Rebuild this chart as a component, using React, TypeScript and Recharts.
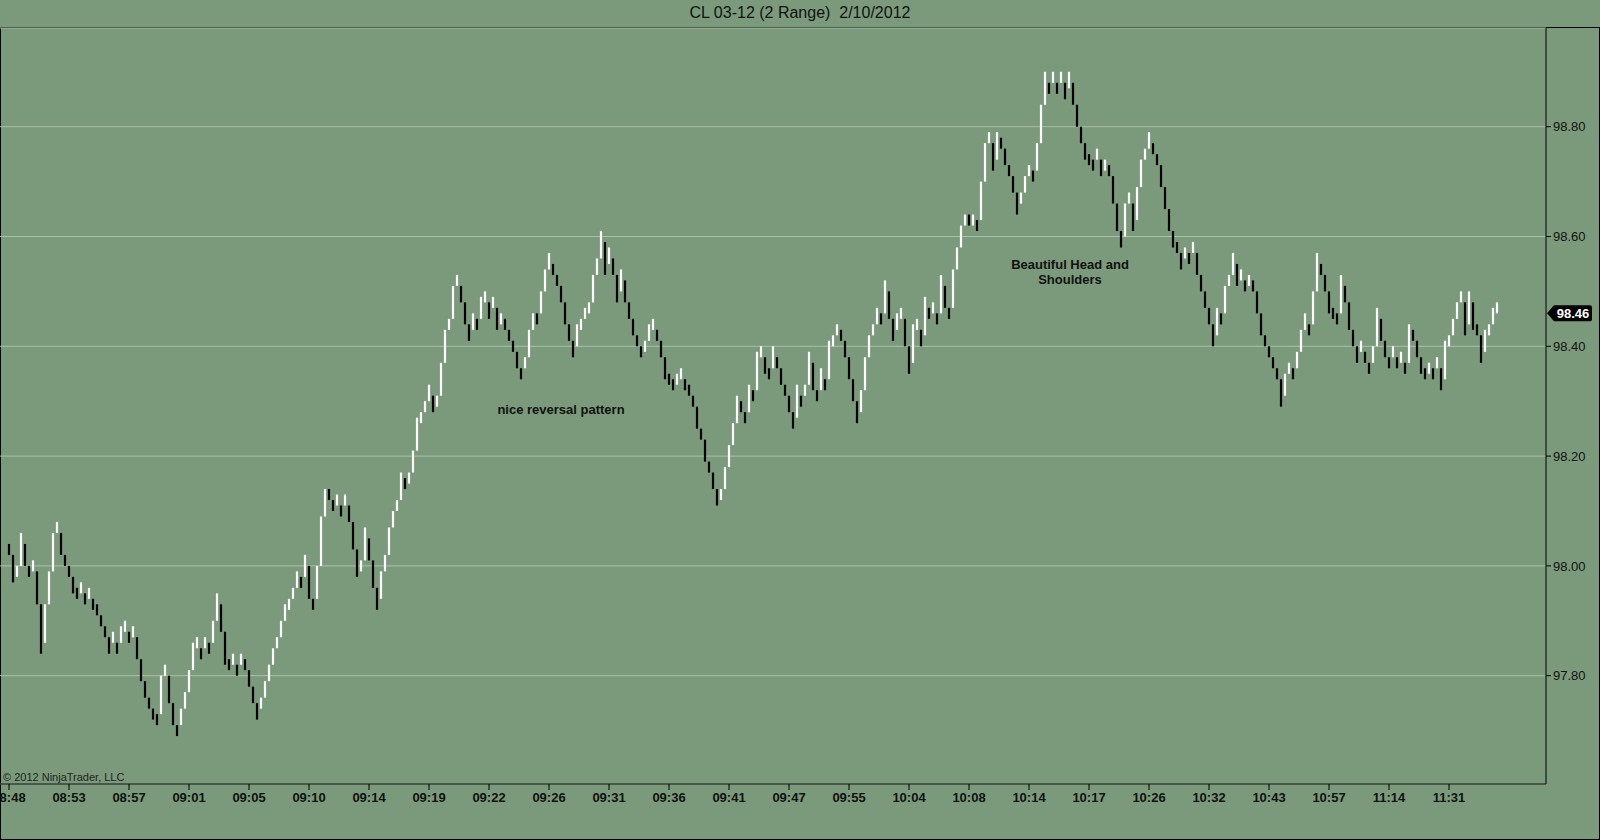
import React from 'react';
import { ComposedChart, Bar, XAxis, YAxis, CartesianGrid, ReferenceLine } from 'recharts';

const FONT = "Arial, 'Liberation Sans', sans-serif";
const BG = '#7b9a7b';
const GRID = '#a9c1a9';

const TITLE = 'CL 03-12 (2 Range)  2/10/2012';
const LAST_PRICE = 98.46;

const TIME_LABELS = [
  '08:48', '08:53', '08:57', '09:01', '09:05', '09:10', '09:14', '09:19', '09:22',
  '09:26', '09:31', '09:36', '09:41', '09:47', '09:55', '10:04', '10:08', '10:14',
  '10:17', '10:26', '10:32', '10:43', '10:57', '11:14', '11:31',
];
const BARS_PER_LABEL = 15;

const PRICE_TICKS = [97.8, 98.0, 98.2, 98.4, 98.6, 98.8];

// bar highs (each 2 range bar spans high - 0.02 .. high), grouped by time label
const SEG_0848 = [98.04, 97.99, 98.00, 98.06, 98.02, 98.00, 98.01, 97.95, 97.86, 97.93, 97.99, 98.06, 98.08, 98.04, 98.02];
const SEG_0853 = [98.00, 97.97, 97.96, 97.97, 97.95, 97.96, 97.94, 97.93, 97.91, 97.89, 97.86, 97.88, 97.86, 97.89, 97.90];
const SEG_0857 = [97.88, 97.89, 97.85, 97.81, 97.78, 97.76, 97.74, 97.73, 97.80, 97.82, 97.77, 97.73, 97.71, 97.74, 97.77];
const SEG_0901 = [97.81, 97.86, 97.87, 97.85, 97.87, 97.86, 97.90, 97.95, 97.90, 97.84, 97.83, 97.84, 97.82, 97.84, 97.83];
const SEG_0905 = [97.80, 97.77, 97.74, 97.76, 97.79, 97.82, 97.85, 97.87, 97.90, 97.93, 97.94, 97.96, 97.99, 97.98, 98.02];
const SEG_0910 = [97.96, 97.94, 98.00, 98.09, 98.14, 98.14, 98.12, 98.13, 98.11, 98.13, 98.10, 98.05, 98.00, 98.01, 98.07];
const SEG_0914 = [98.03, 97.98, 97.94, 97.99, 98.02, 98.07, 98.10, 98.12, 98.17, 98.16, 98.17, 98.21, 98.27, 98.28, 98.30];
const SEG_0919 = [98.33, 98.30, 98.31, 98.37, 98.43, 98.45, 98.51, 98.53, 98.50, 98.46, 98.43, 98.46, 98.45, 98.49, 98.50];
const SEG_0922 = [98.47, 98.49, 98.45, 98.46, 98.45, 98.43, 98.41, 98.38, 98.36, 98.38, 98.43, 98.46, 98.46, 98.50, 98.54];
const SEG_0926 = [98.57, 98.55, 98.53, 98.50, 98.46, 98.43, 98.40, 98.44, 98.45, 98.47, 98.48, 98.53, 98.56, 98.61, 98.55];
const SEG_0931 = [98.58, 98.55, 98.50, 98.54, 98.50, 98.47, 98.44, 98.42, 98.40, 98.41, 98.44, 98.45, 98.43, 98.40, 98.36];
const SEG_0936 = [98.35, 98.34, 98.35, 98.36, 98.34, 98.33, 98.31, 98.27, 98.25, 98.21, 98.19, 98.16, 98.13, 98.14, 98.18];
const SEG_0941 = [98.22, 98.26, 98.31, 98.30, 98.28, 98.33, 98.32, 98.39, 98.40, 98.37, 98.36, 98.40, 98.38, 98.35, 98.33];
const SEG_0947 = [98.30, 98.27, 98.33, 98.31, 98.33, 98.39, 98.34, 98.32, 98.36, 98.34, 98.41, 98.42, 98.44, 98.43, 98.40];
const SEG_0955 = [98.36, 98.32, 98.28, 98.32, 98.38, 98.42, 98.44, 98.47, 98.46, 98.52, 98.47, 98.43, 98.46, 98.47, 98.42];
const SEG_1004 = [98.37, 98.44, 98.45, 98.42, 98.49, 98.47, 98.48, 98.46, 98.53, 98.49, 98.47, 98.54, 98.58, 98.62, 98.64];
const SEG_1008 = [98.64, 98.64, 98.63, 98.70, 98.77, 98.79, 98.74, 98.79, 98.78, 98.75, 98.73, 98.70, 98.66, 98.68, 98.71];
const SEG_1014 = [98.73, 98.72, 98.77, 98.84, 98.90, 98.88, 98.90, 98.88, 98.90, 98.87, 98.90, 98.86, 98.82, 98.79, 98.76];
const SEG_1017 = [98.75, 98.74, 98.76, 98.73, 98.74, 98.73, 98.68, 98.63, 98.60, 98.66, 98.68, 98.63, 98.69, 98.74, 98.76];
const SEG_1026 = [98.79, 98.77, 98.75, 98.71, 98.67, 98.63, 98.60, 98.59, 98.56, 98.58, 98.57, 98.59, 98.55, 98.52, 98.49];
const SEG_1032 = [98.46, 98.42, 98.47, 98.46, 98.51, 98.53, 98.57, 98.53, 98.54, 98.52, 98.53, 98.52, 98.48, 98.44, 98.42];
const SEG_1043 = [98.40, 98.38, 98.36, 98.31, 98.35, 98.37, 98.36, 98.39, 98.43, 98.46, 98.44, 98.50, 98.57, 98.55, 98.52];
const SEG_1057 = [98.48, 98.47, 98.46, 98.53, 98.50, 98.45, 98.42, 98.39, 98.41, 98.39, 98.37, 98.40, 98.47, 98.43, 98.40];
const SEG_1114 = [98.38, 98.40, 98.38, 98.39, 98.37, 98.44, 98.43, 98.40, 98.37, 98.36, 98.37, 98.36, 98.38, 98.34, 98.41];
const SEG_1131 = [98.42, 98.45, 98.48, 98.50, 98.44, 98.50, 98.45, 98.44, 98.39, 98.43, 98.44, 98.47, 98.48];

const HIGHS = [
  ...SEG_0848, ...SEG_0853, ...SEG_0857, ...SEG_0901, ...SEG_0905, ...SEG_0910, ...SEG_0914,
  ...SEG_0919, ...SEG_0922, ...SEG_0926, ...SEG_0931, ...SEG_0936, ...SEG_0941, ...SEG_0947,
  ...SEG_0955, ...SEG_1004, ...SEG_1008, ...SEG_1014, ...SEG_1017, ...SEG_1026, ...SEG_1032,
  ...SEG_1043, ...SEG_1057, ...SEG_1114, ...SEG_1131,
];

const RANGE = 0.02;

// up bars white, down bars black; the span joins on to the previous bar
const buildBars = () => {
  let lastUp = false;
  return HIGHS.map((h, i) => {
    const prev = i > 0 ? HIGHS[i - 1] : h;
    let lo = h - RANGE;
    let hi = h;
    let up: boolean;
    if (h > prev) {
      up = true;
      lo = Math.min(h - RANGE, prev);
    } else if (h < prev) {
      up = false;
      hi = Math.max(h, prev - RANGE);
    } else {
      up = i === 0 ? false : !lastUp;
    }
    lastUp = up;
    return { i, range: [lo, hi], up };
  });
};

const bars = buildBars();

const RangeBar = (props: any) => {
  const { x, y, width, height, payload } = props;
  if (x == null || y == null || !payload) return null;
  const cx = x + width / 2;
  const top = Math.min(y, y + height);
  const h = Math.max(Math.abs(height), 1);
  return <rect x={cx - 1.1} y={top} width={2.2} height={h} fill={payload.up ? '#ffffff' : '#000000'} />;
};

const PriceTag = (props: any) => {
  const { viewBox } = props;
  if (!viewBox) return null;
  const x = viewBox.x + viewBox.width;
  const y = viewBox.y;
  return (
    <g>
      <path d={`M${x + 1},${y} L${x + 8},${y - 8} H${x + 44} Q${x + 46},${y - 8} ${x + 46},${y - 6} V${y + 6} Q${x + 46},${y + 8} ${x + 44},${y + 8} H${x + 8} Z`} fill="#000" />
      <text x={x + 27} y={y + 5} fill="#fff" fontSize={13} fontWeight="bold" fontFamily={FONT} textAnchor="middle">
        {LAST_PRICE.toFixed(2)}
      </text>
    </g>
  );
};

const App: React.FC = () => {
  const xTicks = TIME_LABELS.map((_, k) => k * BARS_PER_LABEL);
  return (
    <div style={{ position: 'absolute', left: 0, top: 0, width: 1600, height: 840, background: BG, fontFamily: FONT, overflow: 'hidden' }}>
      <div style={{ position: 'absolute', left: 0, top: 4, width: 1600, textAlign: 'center', fontSize: 16, lineHeight: '18px', whiteSpace: 'pre', color: '#111' }}>
        {TITLE}
      </div>
      <div style={{ position: 'absolute', left: 0, top: 27, width: 1600, height: 813, border: '1px solid #000', boxSizing: 'border-box' }} />
      <div style={{ position: 'absolute', left: 0, top: 0 }}>
        <ComposedChart width={1600} height={840} data={bars} margin={{ top: 28, right: 0, bottom: 0, left: 0 }}>
          <CartesianGrid vertical={false} stroke={GRID} strokeWidth={1} />
          <XAxis
            dataKey="i"
            type="number"
            domain={[-2.25, 384.25]}
            allowDataOverflow
            ticks={xTicks}
            interval={0}
            tickFormatter={(v: number) => TIME_LABELS[Math.round(v / BARS_PER_LABEL)] ?? ''}
            height={56}
            tickSize={6}
            tickMargin={3}
            axisLine={{ stroke: '#000' }}
            tickLine={{ stroke: '#000' }}
            tick={{ fill: '#111', fontSize: 13, fontWeight: 'bold', fontFamily: FONT }}
          />
          <YAxis
            orientation="right"
            type="number"
            domain={[97.6027, 98.9798]}
            allowDataOverflow
            ticks={PRICE_TICKS}
            interval={0}
            tickFormatter={(v: number) => v.toFixed(2)}
            width={54}
            tickSize={5}
            tickMargin={2}
            axisLine={{ stroke: '#000' }}
            tickLine={{ stroke: '#000' }}
            tick={{ fill: '#111', fontSize: 13, fontFamily: FONT }}
          />
          <Bar dataKey="range" barSize={2} shape={<RangeBar />} isAnimationActive={false} />
          <ReferenceLine y={LAST_PRICE} stroke="none" label={<PriceTag />} />
        </ComposedChart>
      </div>
      <div style={{ position: 'absolute', left: 461, top: 402, width: 200, textAlign: 'center', fontSize: 13, fontWeight: 'bold', lineHeight: '15px', color: '#111' }}>
        nice reversal pattern
      </div>
      <div style={{ position: 'absolute', left: 970, top: 257, width: 200, textAlign: 'center', fontSize: 13, fontWeight: 'bold', lineHeight: '15px', color: '#111' }}>
        Beautiful Head and
        <br />
        Shoulders
      </div>
      <div style={{ position: 'absolute', left: 3, top: 771, fontSize: 11, lineHeight: '13px', color: '#222' }}>
        © 2012 NinjaTrader, LLC
      </div>
    </div>
  );
};

export default App;
